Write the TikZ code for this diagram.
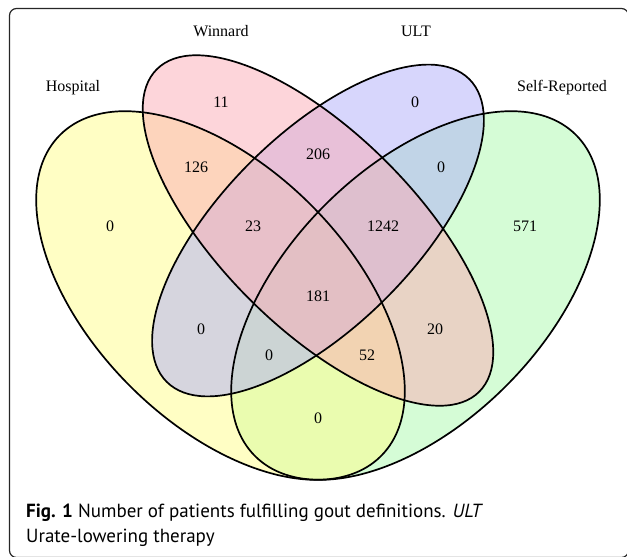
\documentclass[tikz,border=0pt]{standalone}
\usepackage{fontspec}
\setmainfont{Liberation Serif}
\newfontfamily\capfont{PT Sans}
\usepackage{xcolor}

\definecolor{hospcol}{RGB}{255,253,137}
\definecolor{winncol}{RGB}{251,171,181}
\definecolor{ultcol}{RGB}{175,173,249}
\definecolor{selfcol}{RGB}{171,249,173}

\tikzset{
  set line/.style={line width=1.7pt},
  set label/.style={font=\fontsize{16}{16}\selectfont, inner sep=0pt},
  count/.style={font=\fontsize{16}{16}\selectfont, inner sep=0pt},
  caption/.style={font=\capfont\fontsize{19}{19}\selectfont, inner sep=0pt, anchor=base west}
}

\begin{document}
\begin{tikzpicture}[x=1pt, y=-1pt]
      \useasboundingbox (0,0) rectangle (627,557);
      \clip (0,0) rectangle (627,557);

      % frame round the figure
      \draw [line width=1.2pt, black!85, rounded corners=7pt] (9.5,8.5) rectangle (628.5,557.5);

      % centres of the four sets
      \coordinate (hosp) at (220.5,295.5);
      \coordinate (winn) at (318,230.5);
      \coordinate (ult) at (318,230.5);
      \coordinate (self) at (415.5,295.5);

      % fills first (green, yellow, blue, pink), then the outlines on top
      \foreach \s/\col/\rx/\ry/\ang in {self/selfcol/227/128/45, hosp/hospcol/227/128/-45,
                                      ult/ultcol/214/96/45, winn/winncol/228/97/-45}
        \fill [\col, fill opacity=0.5, rotate around={\ang:(\s)}] (\s) ellipse [x radius=\rx, y radius=\ry];

      \foreach \s/\rx/\ry/\ang in {hosp/227/128/-45, winn/228/97/-45, ult/214/96/45, self/227/128/45}
        \draw [set line, rotate around={\ang:(\s)}] (\s) ellipse [x radius=\rx, y radius=\ry];

      % set names
      \node [set label] (label-hosp) at (73,88) {Hospital};
      \node [set label] (label-winn) at (221,31) {Winnard};
      \node [set label] (label-ult) at (416,31) {ULT};
      \node [set label] (label-self) at (562,88) {Self-Reported};

      % region counts
      \foreach \n/\x/\y [count=\i] in {11/221/102, 0/415/102, 126/196/167, 206/318/154, 0/441/167,
                                      0/110/226, 23/253/226, 1242/383/226, 571/525/226, 181/318/296,
                                      0/201/329, 20/435/329, 0/269/355, 52/367/355, 0/318/418}
        \node [count] (count-\i) at (\x,\y) {\n};

      % caption
      \node [caption] (caption-1) at (26,517) {\textbf{Fig. 1} Number of patients fulfilling gout definitions. \textit{ULT}};
      \node [caption] (caption-2) at (26,542) {Urate-lowering therapy};
\end{tikzpicture}
\end{document}
